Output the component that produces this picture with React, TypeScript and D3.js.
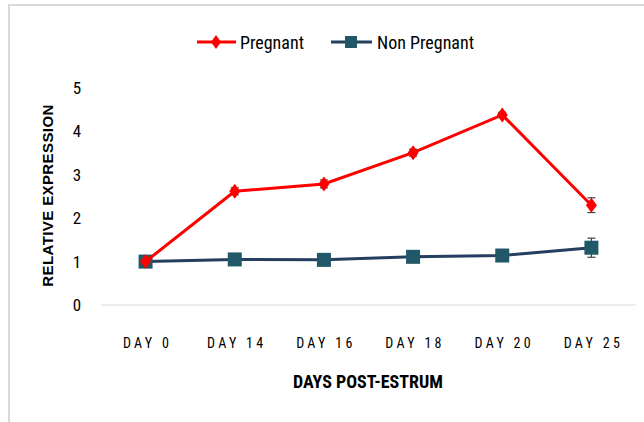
import * as d3 from "d3";
import React from "react";

const days = ["DAY 0", "DAY 14", "DAY 16", "DAY 18", "DAY 20", "DAY 25"];
const pregnant = [1.0, 2.62, 2.79, 3.51, 4.38, 2.3];
const pregnantErr = [0.04, 0.08, 0.09, 0.08, 0.06, 0.17];
const nonPregnant = [1.0, 1.05, 1.04, 1.11, 1.14, 1.32];
const nonPregnantErr = [0.03, 0.03, 0.04, 0.07, 0.1, 0.22];
const yTicks = [0, 1, 2, 3, 4, 5];

const W = 644;
const H = 422;
const narrow = "'Liberation Sans Narrow', 'Roboto Condensed', 'Liberation Sans', sans-serif";

// tall diamond marker
const diamond = (w: number, h: number) => `M0,${-h}L${w},0L0,${h}L${-w},0Z`;

export default function App() {
  const x = d3.scaleBand().domain(days).range([101, 636]);
  const y = d3.scaleLinear().domain([0, 5]).range([305, 88]);
  const cx = (d: string) => (x(d) as number) + x.bandwidth() / 2;

  const line = d3
    .line<number>()
    .x((_, i) => cx(days[i]))
    .y((v) => y(v));

  const errBars = (vals: number[], errs: number[], color: string) =>
    vals.map((v, i) => {
      const px = cx(days[i]);
      return (
        <g key={i} stroke={color} strokeWidth={1.2}>
          <line x1={px} x2={px} y1={y(v + errs[i])} y2={y(v - errs[i])} />
          <line x1={px - 4} x2={px + 4} y1={y(v + errs[i])} y2={y(v + errs[i])} />
          <line x1={px - 4} x2={px + 4} y1={y(v - errs[i])} y2={y(v - errs[i])} />
        </g>
      );
    });

  return (
    <svg
      width={W}
      height={H}
      style={{ position: "absolute", left: 0, top: 0, background: "#fff" }}
    >
      <rect x={9} y={5} width={W} height={H} fill="#fff" stroke="#d9d9d9" strokeWidth={2} />

      {/* legend */}
      <g fontFamily={narrow} fontSize={18} fill="#000">
        <line x1={197} x2={236} y1={42} y2={42} stroke="#ff0000" strokeWidth={3} />
        <path d={diamond(5, 7)} transform="translate(216,42)" fill="#ff0000" />
        <text x={240} y={49}>Pregnant</text>
        <line x1={331} x2={372} y1={42} y2={42} stroke="#243f60" strokeWidth={3} />
        <rect x={345} y={36} width={12} height={12} fill="#215868" />
        <text x={377} y={49}>Non Pregnant</text>
      </g>

      {/* y axis */}
      <line x1={101} x2={636} y1={y(0)} y2={y(0)} stroke="#d9d9d9" strokeWidth={1.2} />
      <g fontFamily={narrow} fontSize={17} fill="#000" textAnchor="middle">
        {yTicks.map((t) => (
          <text key={t} x={77} y={y(t) + 6}>
            {t}
          </text>
        ))}
      </g>
      <text
        transform={`translate(53,${y(2.5) - 1}) rotate(-90)`}
        textAnchor="middle"
        fontFamily="'Liberation Sans', Arial, sans-serif"
        fontWeight="bold"
        fontSize={15}
        letterSpacing={0.4}
      >
        RELATIVE EXPRESSION
      </text>

      {/* x axis labels */}
      <g fontFamily={narrow} fontSize={14} fill="#000" textAnchor="middle" letterSpacing={3.3}>
        {days.map((d) => (
          <text key={d} x={cx(d) + 2} y={348}>
            {d}
          </text>
        ))}
      </g>
      <text
        x={368}
        y={388}
        textAnchor="middle"
        fontFamily={narrow}
        fontWeight="bold"
        fontSize={18}
      >
        DAYS POST-ESTRUM
      </text>

      {/* non pregnant series */}
      <path d={line(nonPregnant)!} fill="none" stroke="#243f60" strokeWidth={3} />
      {errBars(nonPregnant, nonPregnantErr, "#404040")}
      {nonPregnant.map((v, i) => (
        <rect key={i} x={cx(days[i]) - 7} y={y(v) - 7} width={14} height={14} fill="#215868" />
      ))}

      {/* pregnant series */}
      <path d={line(pregnant)!} fill="none" stroke="#ff0000" strokeWidth={3} />
      {errBars(pregnant, pregnantErr, "#404040")}
      {pregnant.map((v, i) => (
        <path
          key={i}
          d={diamond(5.5, 7.5)}
          transform={`translate(${cx(days[i])},${y(v)})`}
          fill="#ff0000"
        />
      ))}
    </svg>
  );
}
